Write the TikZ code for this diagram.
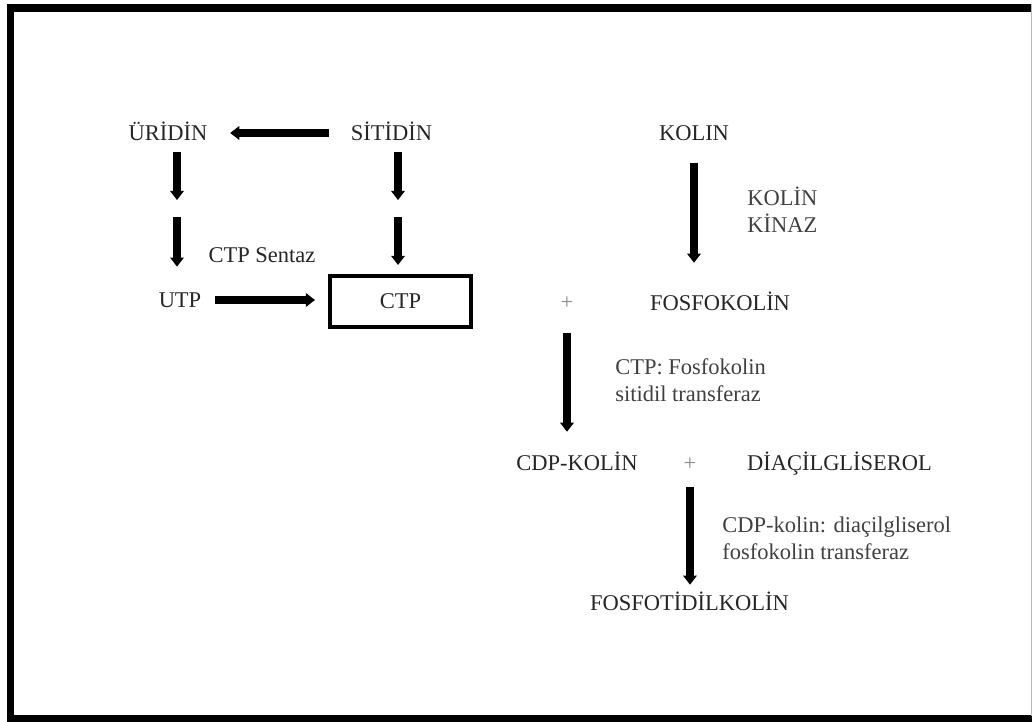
\documentclass[tikz,border=0pt]{standalone}
\usepackage{fontspec}
\setmainfont{Liberation Serif}
\usetikzlibrary{arrows.meta}

\tikzset{
	mol/.style={inner sep=0pt, text height=10.6pt, text depth=0pt, text=black!85},
	enzyme/.style={inner sep=0pt, anchor=west, align=left, text=black!75},
	plus/.style={inner sep=0pt, text height=10.6pt, text depth=0pt, text=black!45},
	ctpbox/.style={mol, draw=black, line width=2.85pt, minimum width=3.525cm, minimum height=1.275cm},
	fat/.style={line width=5pt, -{Triangle[width=9.5pt,length=6.5pt]}},
	frame/.style={line width=5.5pt}
}

\begin{document}
\begin{tikzpicture}[x=0.025cm, y=-0.025cm, font=\fontsize{16}{19.2}\selectfont]
					\useasboundingbox (0,0) rectangle (1032,722);
					\clip (0,0) rectangle (1032,722);
					\draw[frame] (1040,8) -- (10.5,8) -- (10.5,719) -- (1040,719);
					\draw[gray!55, line width=0.7pt] (1031,4) -- (1031,716);

					\node[mol] (uridin) at (168,133) {ÜRİDİN};
					\node[mol] (sitidin) at (391.5,133) {SİTİDİN};
					\node[mol] (sentaz) at (262,255) {CTP Sentaz};
					\node[mol] (utp) at (180,300) {UTP};
					\node[ctpbox] (ctp) at (400.5,301.5) {CTP};

					\node[mol] (kolin) at (694,133) {KOLIN};
					\node[enzyme] (kinaz) at (747,209.5) {KOLİN\\KİNAZ};
					\node[plus] (plus1) at (567,302) {+};
					\node[mol] (fosfokolin) at (720,303) {FOSFOKOLİN};
					\node[enzyme] (cctenz) at (615,380.3) {CTP: Fosfokolin\\sitidil transferaz};

					\node[mol] (cdpkolin) at (577,463) {CDP-KOLİN};
					\node[plus] (plus2) at (690,463) {+};
					\node[mol] (dag) at (839.5,463) {DİAÇİLGLİSEROL};
					\node[enzyme] (cptenz) at (722,538.3) {CDP-kolin: diaçilgliserol\\fosfokolin transferaz};
					\node[mol] (pc) at (689.5,603) {FOSFOTİDİLKOLİN};

					\coordinate (stepL) at (177,208.5);
					\coordinate (stepR) at (398,208.5);


					\draw[fat, shorten <=15.6pt, shorten >=16pt] (sitidin) -- (uridin);

					\draw[fat, shorten <=8.2pt, shorten >=6pt] (uridin.south -| stepL) -- (stepL);
					\draw[fat, shorten <=6pt, shorten >=18.2pt] (stepL) -- (utp.north -| stepL);

					\draw[fat, shorten <=8.2pt, shorten >=6pt] (sitidin.south -| stepR) -- (stepR);
					\draw[fat, shorten <=6pt, shorten >=6.4pt] (stepR) -- (ctp.north -| stepR);

					\draw[fat, shorten <=9.8pt, shorten >=9.2pt] (utp.east) -- (utp.east -| ctp.west);

					\draw[fat, shorten <=16pt, shorten >=23.1pt] (kolin.south) -- (kolin.south |- fosfokolin.north);

					\draw[fat, shorten <=16.7pt, shorten >=16.7pt] (plus1.south) -- (plus1.south |- cdpkolin.north);

					\draw[fat, shorten <=11.8pt, shorten >=7.5pt] (plus2.south) -- (plus2.south |- pc.north);
				\end{tikzpicture}
\end{document}
